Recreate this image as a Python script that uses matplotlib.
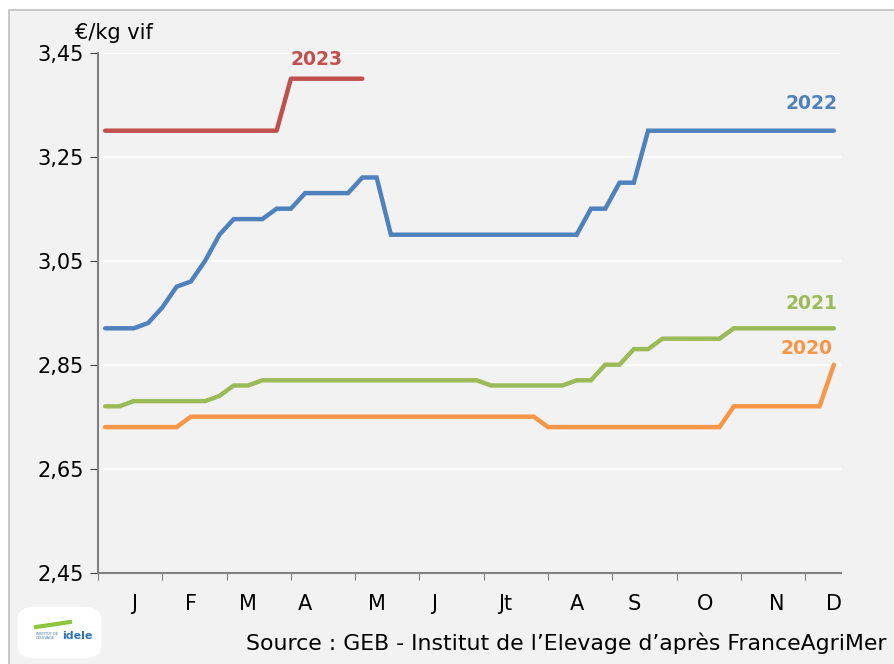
import matplotlib
matplotlib.use("Agg")
import matplotlib.pyplot as plt
from matplotlib.patches import FancyBboxPatch, Rectangle
import numpy as np

weeks = list(range(1, 53))

y2020 = [2.73]*6 + [2.75]*25 + [2.73]*13 + [2.77]*7 + [2.85]
y2021 = ([2.77, 2.77] + [2.78]*6 + [2.79] + [2.81, 2.81] + [2.82]*16 +
         [2.81]*6 + [2.82, 2.82] + [2.85, 2.85] + [2.88, 2.88] + [2.90]*5 + [2.92]*8)
y2022 = ([2.92, 2.92, 2.92, 2.93, 2.96, 3.00, 3.01, 3.05, 3.10, 3.13, 3.13, 3.13,
          3.15, 3.15, 3.18, 3.18, 3.18, 3.18, 3.21, 3.21] + [3.10]*14 +
         [3.15, 3.15, 3.20, 3.20] + [3.30]*14)
y2023 = [3.30]*13 + [3.40]*6
weeks2023 = list(range(1, 20))

series = [("2020", y2020, "#F79646"), ("2021", y2021, "#9BBB59"),
          ("2022", y2022, "#4F81BD")]

month_labels = ["J", "F", "M", "A", "M", "J", "Jt", "A", "S", "O", "N", "D"]
month_pos = [3, 7, 11, 15, 20, 24, 29, 34, 38, 43, 48, 52]
tick_pos = [0.5 + 4.5 * k for k in range(12)]
yticks = [2.45, 2.65, 2.85, 3.05, 3.25, 3.45]

plt.rcParams['font.family'] = ['DejaVu Sans']

fig = plt.figure(figsize=(8.94, 6.64), dpi=100)
fig.patch.set_facecolor("white")
fig.patches.append(Rectangle((9/894, -0.2), 1.2, 1.2 - 10/664, transform=fig.transFigure,
                             facecolor="#F2F2F2", edgecolor="#BFBFBF", lw=1.2, zorder=-10))

ax = fig.add_axes([98/894, 1 - 572.7/664, (841-98)/894, (572.7-52.7)/664])
ax.set_facecolor("#F2F2F2")

for name, vals, col in series:
    ax.plot(weeks, vals, color=col, lw=3.2, solid_capstyle="round", solid_joinstyle="miter", zorder=3)
ax.plot(weeks2023, y2023, color="#C0504D", lw=3.2, solid_capstyle="round", zorder=3)

ax.set_xlim(0.5, 52.5)
ax.set_ylim(2.45, 3.45)
ax.set_yticks(yticks)
ax.set_yticklabels([f"{v:.2f}".replace(".", ",") for v in yticks], fontsize=15)
ax.yaxis.grid(True, color="white", lw=1.3)
ax.set_axisbelow(True)

ax.set_xticks(tick_pos)
ax.set_xticklabels([])
ax.set_xticks(month_pos, minor=True)
ax.set_xticklabels(month_labels, minor=True, fontsize=15)
ax.tick_params(axis="x", which="minor", length=0, pad=15)
ax.tick_params(axis="x", which="major", length=5, color="#808080", direction="out")
ax.tick_params(axis="y", length=6, color="#404040", direction="out", pad=4)

for s in ["top", "right"]:
    ax.spines[s].set_visible(False)
for s in ["left", "bottom"]:
    ax.spines[s].set_color("#808080")
    ax.spines[s].set_linewidth(1.5)

lab_kw = dict(fontsize=13.5, fontweight="bold", ha="center", va="center")
ax.text(15.8, 3.436, "2023", color="#C0504D", **lab_kw)
ax.text(50.45, 3.353, "2022", color="#4F81BD", **lab_kw)
ax.text(50.4, 2.968, "2021", color="#9BBB59", **lab_kw)
ax.text(50.1, 2.882, "2020", color="#F79646", **lab_kw)

fig.text(75/894, 1 - 33/664, "€/kg vif", fontsize=15, ha="left", va="center")
fig.text(886/894, 1 - 643/664, "Source : GEB - Institut de l\u2019Elevage d\u2019après FranceAgriMer",
         fontsize=15.8, ha="right", va="center")

# logo
fig.patches.append(FancyBboxPatch((22/894, 1 - 655/664), 75/894, 45/664,
                                  boxstyle="round,pad=0.005,rounding_size=0.02",
                                  transform=fig.transFigure, facecolor="white", edgecolor="none"))
fig.text(62/894, 1 - 636/664, "idele", fontsize=8, fontweight="bold", color="#2E75B6", ha="left", va="center")
fig.text(36/894, 1 - 636/664, "INSTITUT DE\nL'ÉLEVAGE", fontsize=2.5, color="#2E75B6", ha="left", va="center")
fig.lines.append(plt.Line2D([36/894, 70/894], [1 - 627/664, 1 - 622/664], transform=fig.transFigure,
                            color="#8DC63F", lw=3))

fig.savefig("out.png", dpi=100, facecolor=fig.get_facecolor())
